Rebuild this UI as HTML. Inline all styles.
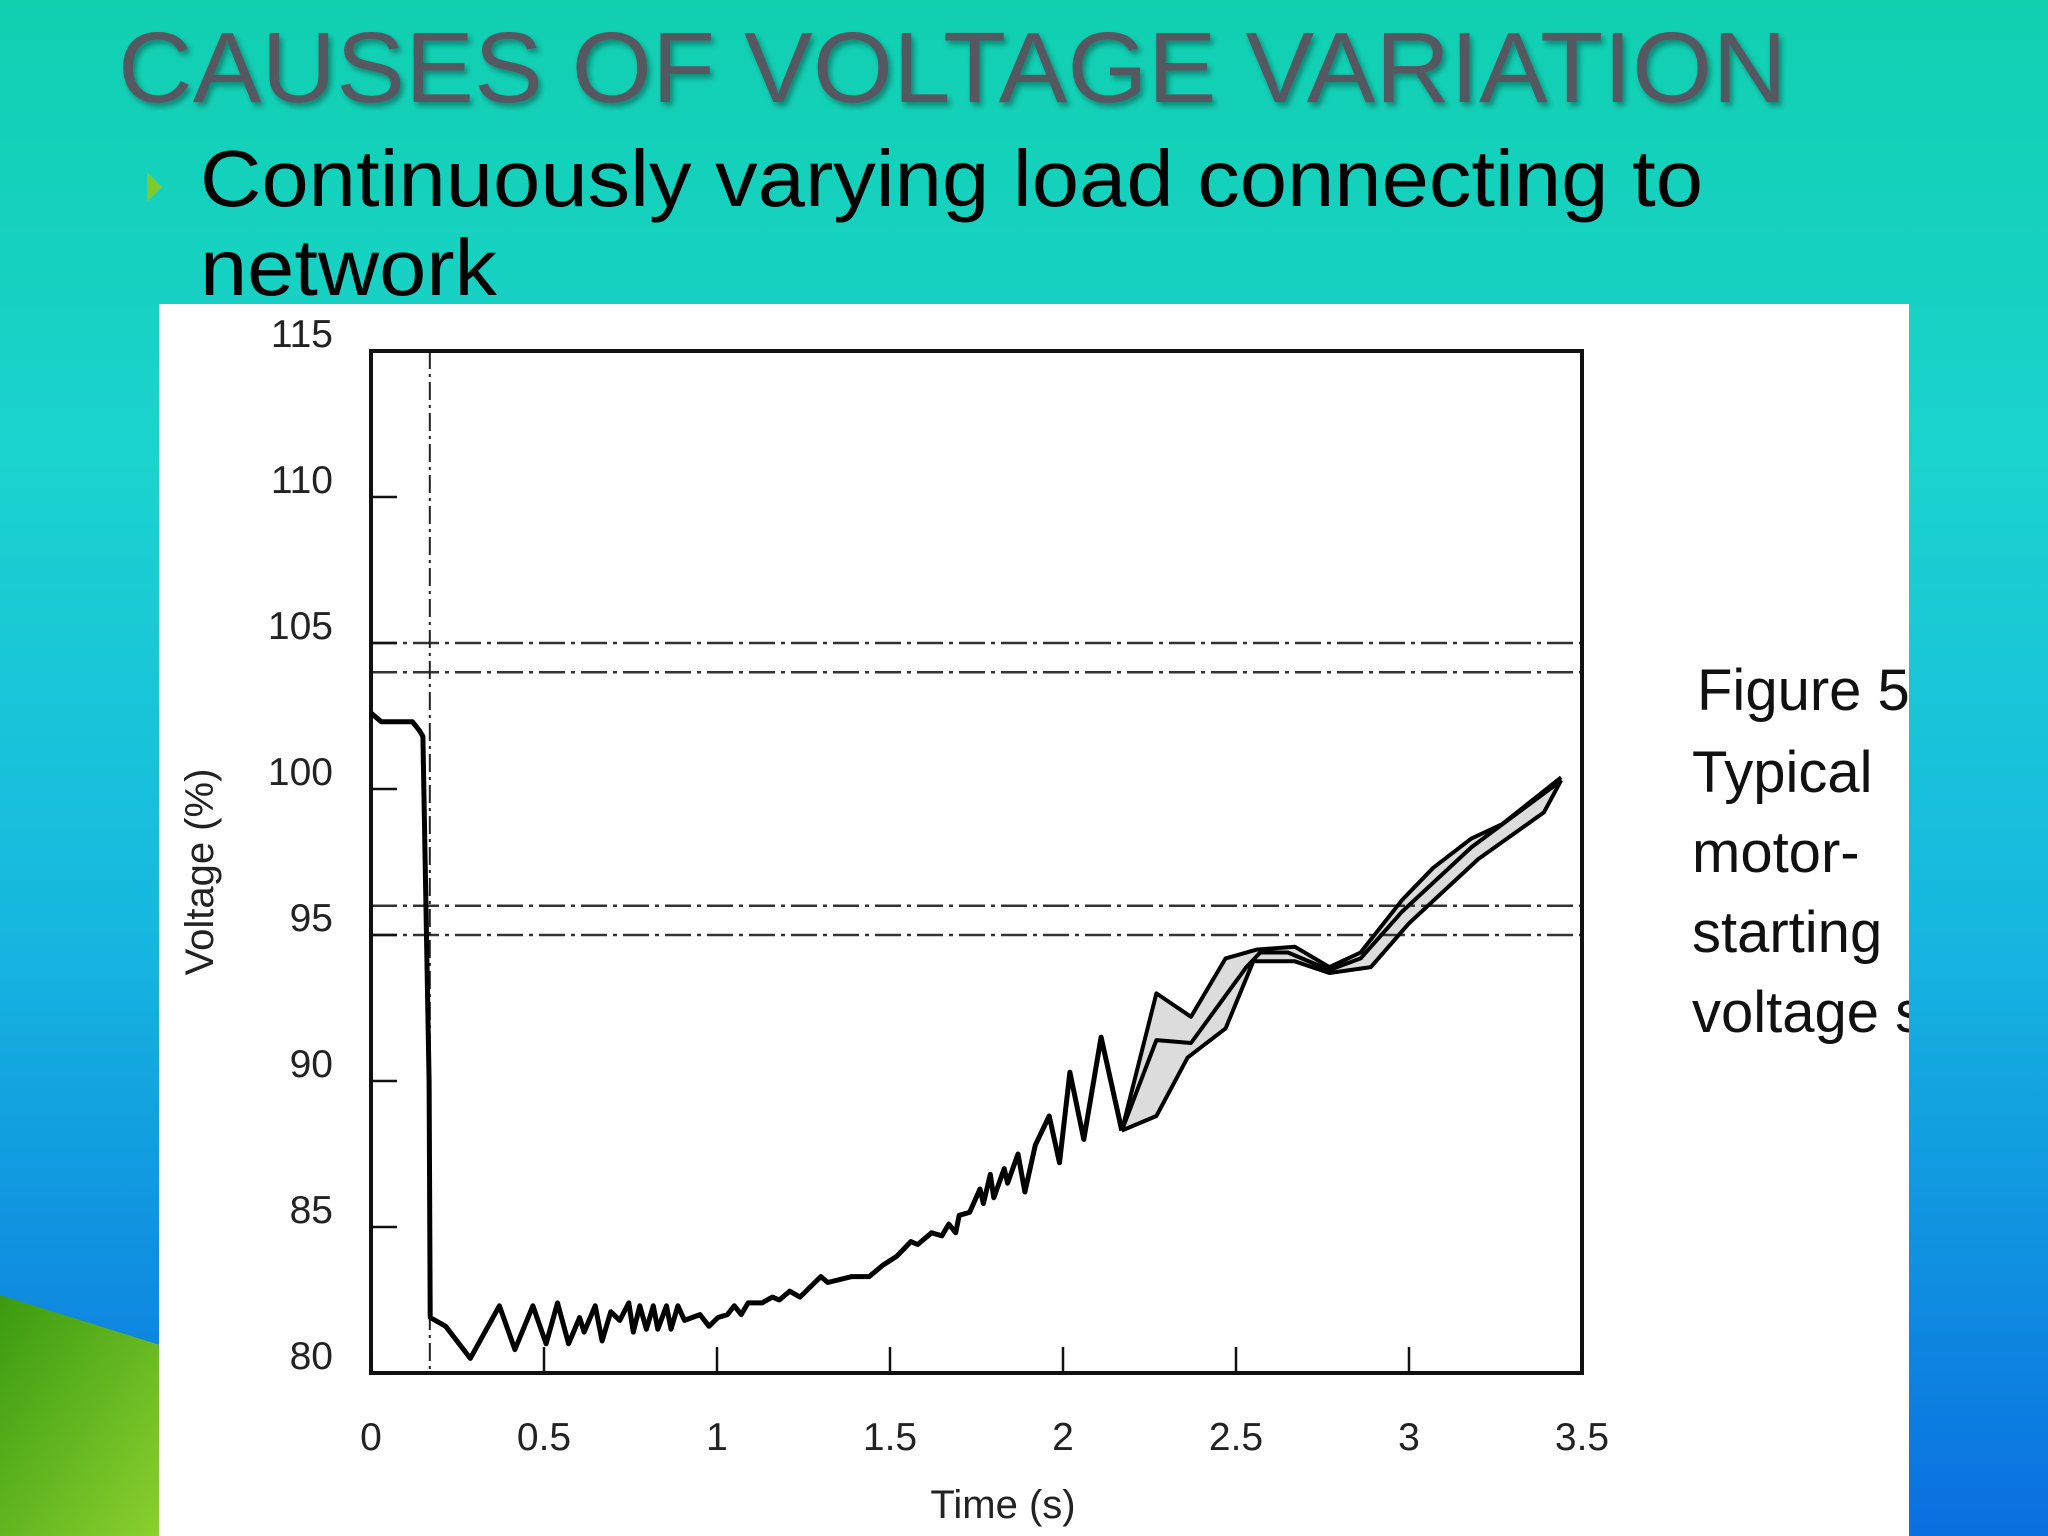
<!DOCTYPE html>
<html><head><meta charset="utf-8"><style>
html,body{margin:0;padding:0;width:2048px;height:1536px;overflow:hidden}
svg{display:block}
</style></head><body>
<svg id="slide" width="2048" height="1536" viewBox="0 0 2048 1536" xmlns="http://www.w3.org/2000/svg" font-family="Liberation Sans, sans-serif">
<defs>
<linearGradient id="bg" gradientUnits="userSpaceOnUse" x1="0" y1="0" x2="0" y2="1536">
<stop offset="0" stop-color="#10d0b0"/>
<stop offset="0.3" stop-color="#1bd3cf"/>
<stop offset="0.6" stop-color="#17b8e0"/>
<stop offset="1" stop-color="#0a6fe0"/>
</linearGradient>
<linearGradient id="gr" x1="0" y1="0" x2="1" y2="1">
<stop offset="0" stop-color="#3a9a10"/><stop offset="1" stop-color="#8ad030"/>
</linearGradient>
<filter id="sh"><feDropShadow dx="3" dy="4" stdDeviation="3" flood-color="#000" flood-opacity="0.35"/></filter>
<clipPath id="capclip"><rect x="0" y="0" width="1909" height="1536"/></clipPath>
</defs>
<rect x="0" y="0" width="2048" height="1536" fill="url(#bg)"/>
<polygon points="0,1295 160,1345 160,1536 0,1536" fill="url(#gr)"/>
<text x="118" y="102" font-size="100" fill="#545860" filter="url(#sh)" textLength="1669" lengthAdjust="spacingAndGlyphs">CAUSES OF VOLTAGE VARIATION</text>
<polygon points="147,172 162,187 147,202" fill="#7ccc30"/>
<text x="200" y="206" font-size="80" fill="#000" textLength="1503" lengthAdjust="spacingAndGlyphs">Continuously varying load connecting to</text>
<text x="200" y="295" font-size="80" fill="#000" textLength="297" lengthAdjust="spacingAndGlyphs">network</text>
<rect x="159" y="304" width="1750" height="1232" fill="#fff"/>
<g font-size="58" fill="#111" clip-path="url(#capclip)">
<text x="1697" y="710">Figure 5</text>
<text x="1692" y="792">Typical</text>
<text x="1692" y="872">motor-</text>
<text x="1692" y="952">starting</text>
<text x="1692" y="1032">voltage s</text>
</g>
<g id="chart"></g>
</svg>
<script>
const yTicks=[80,85,90,95,100,105,110,115];
const xTicks=[0,0.5,1,1.5,2,2.5,3,3.5];
const xTickLabels=["0","0.5","1","1.5","2","2.5","3","3.5"];
const refLines=[105,104,96,95];
const startTime=0.17;
const mainT=[0,0.03,0.12,0.14,0.15,0.168,0.171,0.216,0.287,0.371,0.416,0.468,0.506,0.539,0.571,0.603,0.616,0.648,0.668,0.693,0.719,0.745,0.758,0.777,0.796,0.816,0.829,0.854,0.867,0.887,0.906,0.951,0.977,1.003,1.03,1.05,1.07,1.09,1.13,1.16,1.18,1.21,1.24,1.30,1.32,1.39,1.44,1.48,1.52,1.56,1.58,1.62,1.65,1.67,1.69,1.70,1.73,1.76,1.77,1.79,1.80,1.83,1.84,1.87,1.89,1.92,1.96,1.99,2.02,2.06,2.11,2.17];
const mainV=[102.6,102.3,102.3,102.0,101.8,90,81.9,81.6,80.5,82.3,80.8,82.3,81.0,82.4,81.0,81.9,81.4,82.3,81.1,82.1,81.8,82.4,81.4,82.3,81.5,82.3,81.5,82.3,81.5,82.3,81.8,82.0,81.6,81.9,82.0,82.3,82.0,82.4,82.4,82.6,82.5,82.8,82.6,83.3,83.1,83.3,83.3,83.7,84.0,84.5,84.4,84.8,84.7,85.1,84.8,85.4,85.5,86.3,85.8,86.8,86.0,87.0,86.5,87.5,86.2,87.8,88.8,87.2,90.3,88.0,91.5,88.3];
const upperT=[2.17,2.27,2.37,2.47,2.56,2.67,2.77,2.86,2.98,3.07,3.18,3.27,3.44];
const upperV=[88.3,93.0,92.2,94.2,94.5,94.6,93.9,94.4,96.2,97.3,98.3,98.8,100.4];
const midT=[2.17,2.27,2.37,2.53,2.57,2.65,2.77,2.86,2.98,3.18,3.43];
const midV=[88.3,91.4,91.3,93.9,94.4,94.4,93.8,94.2,95.8,98.0,100.2];
const lowerT=[2.17,2.27,2.36,2.47,2.55,2.67,2.77,2.89,3.0,3.2,3.39,3.44];
const lowerV=[88.3,88.8,90.8,91.8,94.1,94.1,93.7,93.9,95.4,97.6,99.2,100.3];

const NS="http://www.w3.org/2000/svg";
const X0=371,X1=1582,Y0=1373,Y1=351;
const xs=t=>X0+(t/3.5)*(X1-X0);
const ys=v=>Y0-((v-80)/35)*(Y0-Y1);
const g=document.getElementById('chart');
function mk(tag,attrs){const e=document.createElementNS(NS,tag);for(const k in attrs)e.setAttribute(k,attrs[k]);g.appendChild(e);return e;}
function pts(T,V){return T.map((t,i)=>xs(t).toFixed(1)+','+ys(V[i]).toFixed(1));}

let band=mk('polygon',{points:pts(upperT,upperV).concat(pts(lowerT,lowerV).reverse()).join(' '),fill:'#dcdcdc'});



refLines.forEach(v=>{
 const l=mk('line',{x1:X0,x2:X1,y1:ys(v),y2:ys(v),stroke:'#333','stroke-width':2.5,'stroke-dasharray':'26,6,4,6'});
 
 
});
const vl=mk('line',{x1:xs(startTime),x2:xs(startTime),y1:Y1,y2:Y0,stroke:'#222','stroke-width':2,'stroke-dasharray':'18,5,3,5'});



const frame=mk('rect',{x:X0,y:Y1,width:X1-X0,height:Y0-Y1,fill:'none',stroke:'#111','stroke-width':4});



yTicks.forEach(v=>{
 const t=mk('line',{x1:X0,x2:X0+26,y1:ys(v),y2:ys(v),stroke:'#111','stroke-width':2.5});
 
 
 const tx=mk('text',{x:X0-38,y:ys(v)-4,'font-size':39,'text-anchor':'end',fill:'#222'});
 tx.textContent=v;
 
 
});
xTicks.forEach((v,i)=>{
 const t=mk('line',{x1:xs(v),x2:xs(v),y1:Y0,y2:Y0-26,stroke:'#111','stroke-width':2.5});
 
 
 const tx=mk('text',{x:xs(v),y:1450,'font-size':39,'text-anchor':'middle',fill:'#222'});
 tx.textContent=xTickLabels[i];
 
 
});
const xt=mk('text',{x:1003,y:1518,'font-size':40,'text-anchor':'middle',fill:'#222'});
xt.textContent='Time (s)';


const yt=mk('text',{x:0,y:0,'font-size':40,'text-anchor':'middle',fill:'#222',transform:'translate(213,872) rotate(-90)'});
yt.textContent='Voltage (%)';



[[mainT,mainV,'voltage-main-line'],[upperT,upperV,'voltage-upper-line'],[midT,midV,'voltage-mid-line'],[lowerT,lowerV,'voltage-lower-line']].forEach(([T,V,n])=>{
 const p=mk('polyline',{points:pts(T,V).join(' '),fill:'none',stroke:'#000','stroke-width':n==='voltage-main-line'?5:4,'stroke-linejoin':'round'});
 
 
});
</script>
</body></html>
